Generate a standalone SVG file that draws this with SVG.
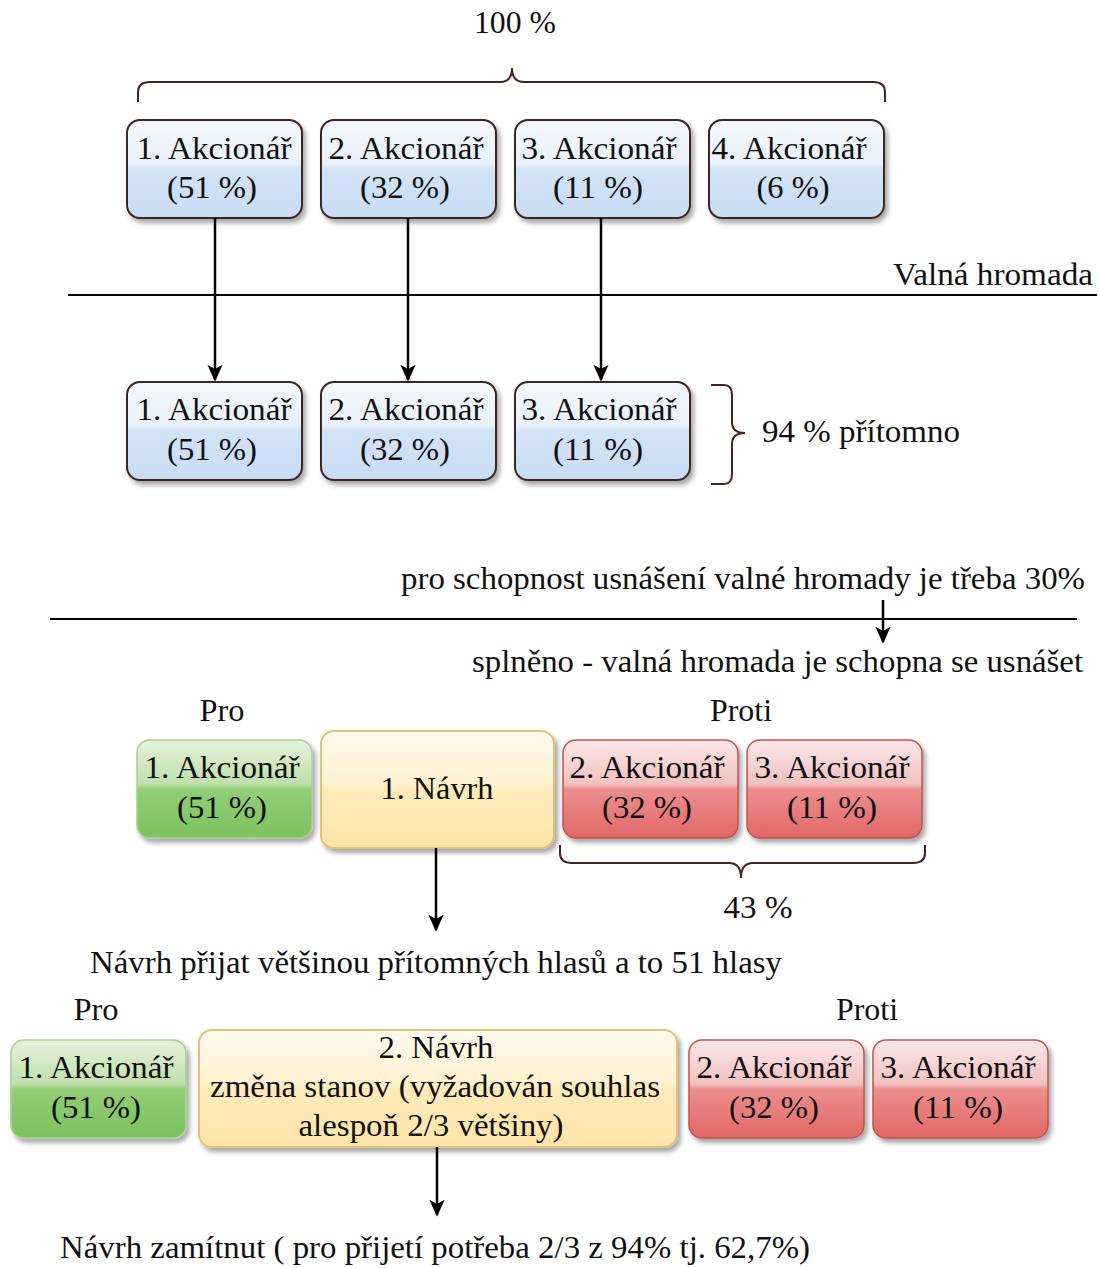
<svg xmlns="http://www.w3.org/2000/svg" width="1099" height="1268" viewBox="0 0 1099 1268">
<defs>
<linearGradient id="gBlue" x1="0" y1="0" x2="0" y2="1">
<stop offset="0" stop-color="#f4f8fd"/><stop offset="0.45" stop-color="#e8f0fa"/><stop offset="0.5" stop-color="#d3e3f6"/><stop offset="1" stop-color="#c8dcf4"/>
</linearGradient>
<linearGradient id="gGreen" x1="0" y1="0" x2="0" y2="1">
<stop offset="0" stop-color="#e6f2dc"/><stop offset="0.45" stop-color="#bfdfab"/><stop offset="0.5" stop-color="#92ce76"/><stop offset="1" stop-color="#7cc25e"/>
</linearGradient>
<linearGradient id="gRed" x1="0" y1="0" x2="0" y2="1">
<stop offset="0" stop-color="#fbe8e8"/><stop offset="0.45" stop-color="#f2c0c0"/><stop offset="0.5" stop-color="#ec8e8e"/><stop offset="1" stop-color="#e26868"/>
</linearGradient>
<linearGradient id="gYellow" x1="0" y1="0" x2="0" y2="1">
<stop offset="0" stop-color="#fffaf0"/><stop offset="0.45" stop-color="#fff1cf"/><stop offset="0.5" stop-color="#feeabb"/><stop offset="1" stop-color="#fde4a8"/>
</linearGradient>
<filter id="sh" x="-10%" y="-10%" width="125%" height="130%">
<feDropShadow dx="3" dy="4" stdDeviation="2.5" flood-color="#000" flood-opacity="0.35"/>
</filter>
<marker id="ah" viewBox="0 0 10 10" refX="9" refY="5" markerWidth="17" markerHeight="17" orient="auto" markerUnits="userSpaceOnUse">
<path d="M0,0.5 L10,5 L0,9.5 L2.5,5 z" fill="#000"/>
</marker>
</defs>
<style>
text{font-family:"Liberation Serif","Times New Roman",serif;fill:#111;}
.bt{font-size:32px;text-anchor:middle;}
.lb{font-size:32px;}
.blue{fill:url(#gBlue);stroke:#3b2626;stroke-width:2;filter:url(#sh);}
.green{fill:url(#gGreen);stroke:#a9cf96;stroke-width:1.5;filter:url(#sh);}
.red{fill:url(#gRed);stroke:#c45050;stroke-width:1.5;filter:url(#sh);}
.yellow{fill:url(#gYellow);stroke:#e2c278;stroke-width:2;filter:url(#sh);}
.brace{fill:none;stroke:#4a2020;stroke-width:2;}
.ln{stroke:#000;stroke-width:2;fill:none;}
.ar{stroke:#000;stroke-width:2.5;fill:none;marker-end:url(#ah);}
</style>

<!-- top labels and brace -->
<text class="lb" x="515" y="33" text-anchor="middle" textLength="82" lengthAdjust="spacingAndGlyphs">100 %</text>
<path class="brace" d="M138,102 V92 Q138,82 150,82 H500 Q512,82 512,68 Q512,82 524,82 H873 Q885,82 885,92 V102"/>

<g id="a1"><rect class="blue" x="127" y="120" width="175" height="98" rx="13"/><text class="bt" x="214" y="159" textLength="155" lengthAdjust="spacingAndGlyphs">1. Akcionář</text><text class="bt" x="212" y="198" textLength="90" lengthAdjust="spacingAndGlyphs">(51 %)</text></g>
<g id="a2"><rect class="blue" x="321" y="120" width="175" height="98" rx="13"/><text class="bt" x="406" y="159" textLength="155" lengthAdjust="spacingAndGlyphs">2. Akcionář</text><text class="bt" x="405" y="198" textLength="90" lengthAdjust="spacingAndGlyphs">(32 %)</text></g>
<g id="a3"><rect class="blue" x="515" y="120" width="175" height="98" rx="13"/><text class="bt" x="599" y="159" textLength="155" lengthAdjust="spacingAndGlyphs">3. Akcionář</text><text class="bt" x="598" y="198" textLength="90" lengthAdjust="spacingAndGlyphs">(11 %)</text></g>
<g id="a4"><rect class="blue" x="709" y="120" width="175" height="98" rx="13"/><text class="bt" x="789" y="159" textLength="155" lengthAdjust="spacingAndGlyphs">4. Akcionář</text><text class="bt" x="793" y="198" textLength="73" lengthAdjust="spacingAndGlyphs">(6 %)</text></g>

<text class="lb" x="1093" y="285" text-anchor="end" textLength="200" lengthAdjust="spacingAndGlyphs">Valná hromada</text>

<g id="b1"><rect class="blue" x="127" y="382" width="175" height="98" rx="13"/><text class="bt" x="214" y="420" textLength="155" lengthAdjust="spacingAndGlyphs">1. Akcionář</text><text class="bt" x="212" y="460" textLength="90" lengthAdjust="spacingAndGlyphs">(51 %)</text></g>
<g id="b2"><rect class="blue" x="321" y="382" width="175" height="98" rx="13"/><text class="bt" x="406" y="420" textLength="155" lengthAdjust="spacingAndGlyphs">2. Akcionář</text><text class="bt" x="405" y="460" textLength="90" lengthAdjust="spacingAndGlyphs">(32 %)</text></g>
<g id="b3"><rect class="blue" x="515" y="382" width="175" height="98" rx="13"/><text class="bt" x="599" y="420" textLength="155" lengthAdjust="spacingAndGlyphs">3. Akcionář</text><text class="bt" x="598" y="460" textLength="90" lengthAdjust="spacingAndGlyphs">(11 %)</text></g>

<path class="brace" d="M711,385 H724 Q732,385 732,395 V422 Q732,433 745,433 Q732,433 732,444 V474 Q732,484 724,484 H711"/>
<text class="lb" x="762" y="442" textLength="198" lengthAdjust="spacingAndGlyphs">94 % přítomno</text>

<text class="lb" x="1085" y="589" text-anchor="end" textLength="684" lengthAdjust="spacingAndGlyphs">pro schopnost usnášení valné hromady je třeba 30%</text>
<text class="lb" x="1083" y="672" text-anchor="end" textLength="611" lengthAdjust="spacingAndGlyphs">splněno - valná hromada je schopna se usnášet</text>

<text class="lb" x="222" y="721" text-anchor="middle" textLength="45" lengthAdjust="spacingAndGlyphs">Pro</text>
<text class="lb" x="741" y="721" text-anchor="middle" textLength="62" lengthAdjust="spacingAndGlyphs">Proti</text>

<g id="c1"><rect class="green" x="137" y="740" width="175" height="98" rx="13"/><text class="bt" x="222" y="778" textLength="155" lengthAdjust="spacingAndGlyphs">1. Akcionář</text><text class="bt" x="222" y="818" textLength="90" lengthAdjust="spacingAndGlyphs">(51 %)</text></g>
<g id="n1"><rect class="yellow" x="321" y="731" width="233" height="117" rx="13"/><text class="bt" x="437" y="799" textLength="113" lengthAdjust="spacingAndGlyphs">1. Návrh</text></g>
<g id="c2"><rect class="red" x="563" y="740" width="175" height="98" rx="13"/><text class="bt" x="647" y="778" textLength="155" lengthAdjust="spacingAndGlyphs">2. Akcionář</text><text class="bt" x="647" y="818" textLength="90" lengthAdjust="spacingAndGlyphs">(32 %)</text></g>
<g id="c3"><rect class="red" x="747" y="740" width="175" height="98" rx="13"/><text class="bt" x="832" y="778" textLength="155" lengthAdjust="spacingAndGlyphs">3. Akcionář</text><text class="bt" x="832" y="818" textLength="90" lengthAdjust="spacingAndGlyphs">(11 %)</text></g>

<path class="brace" d="M560,845 V853 Q560,863 572,863 H729 Q741,863 741,878 Q741,863 753,863 H913 Q925,863 925,853 V845"/>
<text class="lb" x="758" y="918" text-anchor="middle" textLength="69" lengthAdjust="spacingAndGlyphs">43 %</text>

<text class="lb" x="90" y="973" textLength="692" lengthAdjust="spacingAndGlyphs">Návrh přijat většinou přítomných hlasů a to 51 hlasy</text>

<text class="lb" x="96" y="1020" text-anchor="middle" textLength="45" lengthAdjust="spacingAndGlyphs">Pro</text>
<text class="lb" x="867" y="1020" text-anchor="middle" textLength="62" lengthAdjust="spacingAndGlyphs">Proti</text>

<g id="d1"><rect class="green" x="11" y="1040" width="175" height="98" rx="13"/><text class="bt" x="96" y="1078" textLength="155" lengthAdjust="spacingAndGlyphs">1. Akcionář</text><text class="bt" x="96" y="1118" textLength="90" lengthAdjust="spacingAndGlyphs">(51 %)</text></g>
<g id="n2"><rect class="yellow" x="199" y="1030" width="478" height="117" rx="13"/><text class="bt" x="436" y="1058" textLength="115" lengthAdjust="spacingAndGlyphs">2. Návrh</text><text class="bt" x="435" y="1097" textLength="450" lengthAdjust="spacingAndGlyphs">změna stanov (vyžadován souhlas</text><text class="bt" x="431" y="1136" textLength="265" lengthAdjust="spacingAndGlyphs">alespoň 2/3 většiny)</text></g>
<g id="d2"><rect class="red" x="689" y="1040" width="175" height="98" rx="13"/><text class="bt" x="774" y="1078" textLength="155" lengthAdjust="spacingAndGlyphs">2. Akcionář</text><text class="bt" x="774" y="1118" textLength="90" lengthAdjust="spacingAndGlyphs">(32 %)</text></g>
<g id="d3"><rect class="red" x="873" y="1040" width="175" height="98" rx="13"/><text class="bt" x="958" y="1078" textLength="155" lengthAdjust="spacingAndGlyphs">3. Akcionář</text><text class="bt" x="958" y="1118" textLength="90" lengthAdjust="spacingAndGlyphs">(11 %)</text></g>

<text class="lb" x="60" y="1258" textLength="750" lengthAdjust="spacingAndGlyphs">Návrh zamítnut ( pro přijetí potřeba 2/3 z 94% tj. 62,7%)</text>

<g id="connectors">
<line class="ln" x1="68" y1="295" x2="1097" y2="295"/>
<line class="ln" x1="50" y1="619" x2="1077" y2="619"/>
<line class="ar" x1="215" y1="218" x2="215" y2="380"/>
<line class="ar" x1="408" y1="218" x2="408" y2="380"/>
<line class="ar" x1="601" y1="218" x2="601" y2="380"/>
<line class="ar" x1="883" y1="600" x2="883" y2="642"/>
<line class="ar" x1="436" y1="848" x2="436" y2="930"/>
<line class="ar" x1="437" y1="1147" x2="437" y2="1215"/>
</g>
</svg>
